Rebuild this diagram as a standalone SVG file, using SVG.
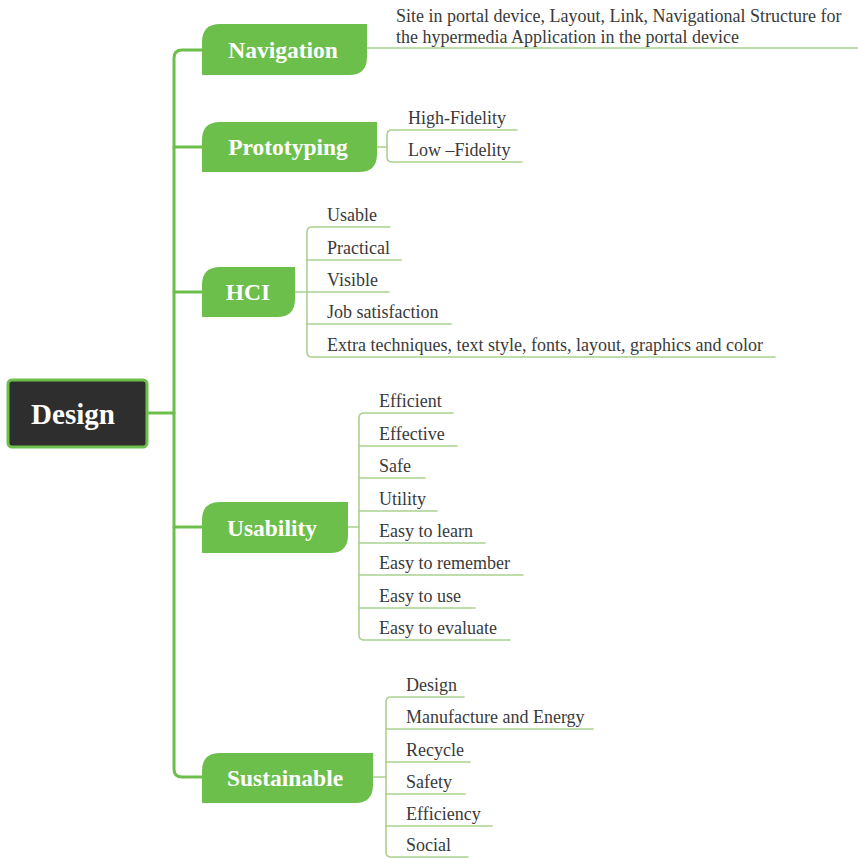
<svg xmlns="http://www.w3.org/2000/svg" width="858" height="859" viewBox="0 0 858 859">
  <style>
    .trunk { fill: none; stroke: #6dbf4b; stroke-width: 3; stroke-linecap: round; stroke-linejoin: round; }
    .twig { fill: none; stroke: #a9d28f; stroke-width: 1.6; stroke-linecap: round; }
    .topic { fill: #6dbf4b; }
    .topic-label { font-family: "Liberation Serif", "Times New Roman", serif; font-weight: bold; font-size: 23.5px; fill: #ffffff; text-anchor: middle; }
    .leaf { font-family: "Liberation Serif", "Times New Roman", serif; font-size: 18px; fill: #3a3a3a; }
    .root-box { fill: #2e2e2e; stroke: #6dbf4b; stroke-width: 3; }
    .root-label { font-family: "Liberation Serif", "Times New Roman", serif; font-weight: bold; font-size: 29px; fill: #ffffff; text-anchor: middle; }
  </style>

  <rect width="858" height="859" fill="#ffffff"/>

  <!-- connectors -->
  <g id="connectors">
    <!-- trunk from the root to every main topic -->
    <path class="trunk" d="M147 413 H174"/>
    <path class="trunk" d="M202 50 H182 Q174 50 174 58 V769 Q174 777 182 777 H202"/>
    <path class="trunk" d="M174 147 H202"/>
    <path class="trunk" d="M174 292 H202"/>
    <path class="trunk" d="M174 527 H202"/>

    <!-- Navigation detail -->
    <path class="twig" d="M367 48 H858"/>

    <!-- Prototyping details -->
    <path class="twig" d="M377 147 H387"/>
    <path class="twig" d="M517 130 H392 Q387 130 387 135 V157 Q387 162 392 162 H522"/>

    <!-- HCI details -->
    <path class="twig" d="M295 292 H307"/>
    <path class="twig" d="M390 227 H312 Q307 227 307 232 V352 Q307 357 312 357 H775"/>
    <path class="twig" d="M307 260 H401"/>
    <path class="twig" d="M307 292 H389"/>
    <path class="twig" d="M307 324 H451"/>

    <!-- Usability details -->
    <path class="twig" d="M348 527 H359"/>
    <path class="twig" d="M453 413 H364 Q359 413 359 418 V635 Q359 640 364 640 H510"/>
    <path class="twig" d="M359 446 H457"/>
    <path class="twig" d="M359 478 H425"/>
    <path class="twig" d="M359 511 H437"/>
    <path class="twig" d="M359 543 H485"/>
    <path class="twig" d="M359 575 H523"/>
    <path class="twig" d="M359 608 H475"/>

    <!-- Sustainable details -->
    <path class="twig" d="M373 777 H386"/>
    <path class="twig" d="M464 697 H391 Q386 697 386 702 V852 Q386 857 391 857 H468"/>
    <path class="twig" d="M386 729 H593"/>
    <path class="twig" d="M386 762 H470"/>
    <path class="twig" d="M386 794 H465"/>
    <path class="twig" d="M386 826 H492"/>
  </g>

  <!-- root -->
  <g id="node-design">
    <rect class="root-box" x="8" y="380" width="139" height="67" rx="4"/>
    <text class="root-label" x="73" y="424">Design</text>
  </g>

  <!-- main topics: leaf-shaped boxes -->
  <g id="node-navigation">
    <path class="topic" d="M220 24 H367 V57 Q367 75 349 75 H202 V42 Q202 24 220 24 Z"/>
    <text class="topic-label" x="283" y="58">Navigation</text>
    <text class="leaf" x="396" y="22">Site in portal device, Layout, Link, Navigational Structure for</text>
    <text class="leaf" x="396" y="43">the hypermedia Application in the portal device</text>
  </g>

  <g id="node-prototyping">
    <path class="topic" d="M220 122 H377 V154 Q377 172 359 172 H202 V140 Q202 122 220 122 Z"/>
    <text class="topic-label" x="288" y="155">Prototyping</text>
    <text class="leaf" x="408" y="124">High-Fidelity</text>
    <text class="leaf" x="408" y="156">Low –Fidelity</text>
  </g>

  <g id="node-hci">
    <path class="topic" d="M220 267 H295 V299 Q295 317 277 317 H202 V285 Q202 267 220 267 Z"/>
    <text class="topic-label" x="248" y="300">HCI</text>
    <text class="leaf" x="327" y="221">Usable</text>
    <text class="leaf" x="327" y="254">Practical</text>
    <text class="leaf" x="327" y="286">Visible</text>
    <text class="leaf" x="327" y="318">Job satisfaction</text>
    <text class="leaf" x="327" y="351">Extra techniques, text style, fonts, layout, graphics and color</text>
  </g>

  <g id="node-usability">
    <path class="topic" d="M220 502 H348 V535 Q348 553 330 553 H202 V520 Q202 502 220 502 Z"/>
    <text class="topic-label" x="272" y="536">Usability</text>
    <text class="leaf" x="379" y="407">Efficient</text>
    <text class="leaf" x="379" y="440">Effective</text>
    <text class="leaf" x="379" y="472">Safe</text>
    <text class="leaf" x="379" y="505">Utility</text>
    <text class="leaf" x="379" y="537">Easy to learn</text>
    <text class="leaf" x="379" y="569">Easy to remember</text>
    <text class="leaf" x="379" y="602">Easy to use</text>
    <text class="leaf" x="379" y="634">Easy to evaluate</text>
  </g>

  <g id="node-sustainable">
    <path class="topic" d="M220 753 H373 V785 Q373 803 355 803 H202 V771 Q202 753 220 753 Z"/>
    <text class="topic-label" x="285" y="786">Sustainable</text>
    <text class="leaf" x="406" y="691">Design</text>
    <text class="leaf" x="406" y="723">Manufacture and Energy</text>
    <text class="leaf" x="406" y="756">Recycle</text>
    <text class="leaf" x="406" y="788">Safety</text>
    <text class="leaf" x="406" y="820">Efficiency</text>
    <text class="leaf" x="406" y="851">Social</text>
  </g>
</svg>
